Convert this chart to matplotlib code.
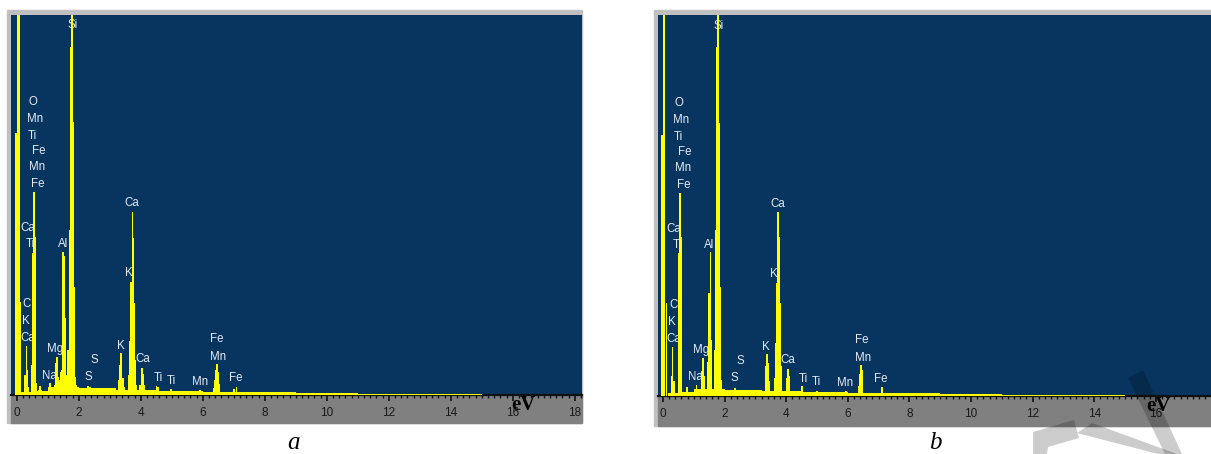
import matplotlib
matplotlib.use('Agg')
import matplotlib.pyplot as plt
from matplotlib.patches import Rectangle, Polygon
from matplotlib.ticker import MultipleLocator
import numpy as np

# spectrum a: channel energies (keV) and counts (arbitrary, full scale ~380)
energy_a = [-0.02, 0.02, 0.07, 0.12, 0.26, 0.31, 0.34, 0.38, 0.49, 0.52, 0.55, 0.60, 0.63,
            0.72, 0.75, 0.78, 1.04, 1.07, 1.10, 1.23, 1.26, 1.30, 1.33, 1.36, 1.39, 1.43,
            1.46, 1.49, 1.52, 1.55, 1.59, 1.62, 1.66, 1.71, 1.75, 1.79, 1.82, 1.85, 1.89, 1.92,
            2.30, 2.36, 3.29, 3.32, 3.35, 3.38, 3.42, 3.46,
            3.62, 3.65, 3.69, 3.73, 3.76, 3.79, 3.82, 3.85,
            3.98, 4.02, 4.05, 4.08, 4.11, 4.51, 4.55, 4.97, 5.91,
            6.35, 6.38, 6.42, 6.45, 6.48, 6.51, 6.54, 7.01, 7.09]
counts_a = [262, 420, 420, 93, 20, 49, 25, 8, 30, 142, 203, 158, 12,
            5, 9, 5, 6, 12, 6, 10, 32, 38, 18, 10, 15, 23,
            25, 143, 139, 77, 10, 20, 45, 165, 348, 380, 273, 108, 18, 10,
            9, 8, 15, 30, 42, 33, 17, 8,
            20, 54, 113, 183, 157, 92, 35, 10,
            10, 20, 27, 21, 10, 9, 8, 6, 5,
            7, 15, 25, 31, 23, 11, 6, 6, 8]

# spectrum b
energy_b = [-0.03, 0.02, 0.05, 0.11, 0.28, 0.31, 0.35, 0.50, 0.53, 0.56, 0.58,
            0.77, 1.09, 1.26, 1.29, 1.32, 1.47, 1.50, 1.54, 1.57,
            1.69, 1.72, 1.75, 1.79, 1.82, 1.85, 1.89, 2.34,
            3.33, 3.37, 3.40, 3.43, 3.64, 3.67, 3.71, 3.74, 3.78, 3.81, 3.84,
            4.02, 4.05, 4.08, 4.52, 4.99, 5.93,
            6.35, 6.38, 6.42, 6.45, 6.48, 7.10]
counts_b = [261, 420, 420, 93, 20, 49, 15, 33, 143, 203, 159,
            9, 11, 25, 38, 20, 34, 103, 144, 56,
            46, 166, 349, 381, 273, 109, 16, 8,
            30, 42, 33, 15, 18, 53, 113, 184, 159, 93, 30,
            18, 27, 20, 10, 5, 5,
            10, 22, 31, 26, 14, 9]

# continuum background
bg_edges = [0.15, 0.5, 1.0, 2.0, 3.2, 4.5, 6.0, 7.5, 9.0, 11.0, 13.0, 15.0]
bg_a = [3, 4, 8, 7, 5, 4, 3, 3, 2, 1.5, 1]
bg_b = [3, 4, 7, 6, 5, 4, 3, 3, 2, 1.5, 1]

# peak labels (name, keV, cts)
peak_names = ['Si', 'O', 'Mn', 'Ti', 'Fe', 'Mn', 'Fe', 'Ca', 'Ti', 'Al', 'C', 'K', 'Ca',
              'Mg', 'Na', 'S', 'S', 'Ca', 'K', 'K', 'Ca', 'Ti', 'Ti', 'Mn', 'Fe', 'Mn', 'Fe']
peak_kev = [1.80, 0.53, 0.60, 0.49, 0.72, 0.65, 0.66, 0.36, 0.45, 1.50, 0.33, 0.29, 0.34,
            1.25, 1.05, 2.51, 2.32, 3.72, 3.61, 3.35, 4.05, 4.55, 4.97, 5.92, 6.44, 6.49, 7.07]
peak_cts = [370, 293, 276, 259, 244, 228, 211, 167, 151, 151, 91, 74, 57,
            46, 19, 35, 18, 192, 122, 49, 36, 17, 14, 13, 56, 38, 17]

W, H = 1211, 454
fig = plt.figure(figsize=(W / 100, H / 100), dpi=100)

BLUE = '#08355f'
YELLOW = '#ffff00'


def px_rect(x0, y0, x1, y1):
    return [x0 / W, 1 - y1 / H, (x1 - x0) / W, (y1 - y0) / H]


def panel(frame, plot_box, base_y, bottom_y, xlim, ymax, energy, counts, bg, ticks, letter, ev_pos):
    fx0, fy0, fx1 = frame
    px0, py0, px1 = plot_box
    # light frame and grey ruler strip
    fig.patches.append(Rectangle((fx0 / W, 1 - bottom_y / H), (fx1 - fx0) / W, (bottom_y - fy0) / H,
                                 transform=fig.transFigure, color='#c0c0c0', zorder=-10))
    fig.patches.append(Rectangle((px0 / W, 1 - bottom_y / H), (px1 - px0) / W, (bottom_y - base_y) / H,
                                 transform=fig.transFigure, color='#808080', zorder=-9))
    ax = fig.add_axes(px_rect(px0, py0, px1, base_y))
    ax.set_facecolor(BLUE)
    ax.bar(energy, counts, width=0.056, color=YELLOW, linewidth=0, zorder=3)
    ax.stairs(bg, bg_edges, fill=True, color=YELLOW, linewidth=0, zorder=3)
    for name, e, c in zip(peak_names, peak_kev, peak_cts):
        ax.text(e, c, name, ha='center', va='center', fontsize=8.3, color='#e4eaf2',
                family='Liberation Sans', zorder=2)
    ax.set_xlim(*xlim)
    ax.set_ylim(0, ymax)
    ax.set_yticks([])
    for s in ['top', 'left', 'right']:
        ax.spines[s].set_visible(False)
    ax.spines['bottom'].set_linewidth(1.6)
    ax.spines['bottom'].set_color('#111111')
    ax.set_xticks(ticks)
    ax.set_xticklabels([str(t) for t in ticks], fontsize=8.5, color='#1a1a1a', family='Liberation Sans')
    ax.xaxis.set_minor_locator(MultipleLocator(0.2))
    ax.tick_params(axis='x', which='major', length=4, width=1.2, color='#111111', pad=4.5)
    ax.tick_params(axis='x', which='minor', length=2.5, width=1, color='#111111')
    fig.text(ev_pos[0] / W, 1 - ev_pos[1] / H, 'eV', ha='center', va='center', fontsize=15,
             fontweight='bold', family='Liberation Serif', color='black', zorder=5)
    fig.text(letter[1] / W, 1 - letter[2] / H, letter[0], ha='center', va='center', fontsize=18,
             style='italic', family='Liberation Serif', color='black')
    return ax


panel((7, 10, 582), (11, 15, 582), 395, 423, (-0.187, 18.23), 380,
      energy_a, counts_a, bg_a, list(range(0, 19, 2)), ('a', 293, 443), (523, 405))
panel((654, 10, 1211), (658, 15, 1211), 396, 426, (-0.162, 17.79), 381,
      energy_b, counts_b, bg_b, list(range(0, 17, 2)), ('b', 935, 443), (1158, 406))

# faint watermark strokes over panel b (pixel outlines)
watermark = [
    [(1128, 378), (1143, 370), (1182, 454), (1165, 454)],
    [(1077, 433), (1092, 423), (1177, 454), (1158, 454)],
    [(1033, 432), (1074, 420), (1079, 438), (1048, 447), (1047, 454), (1033, 454)],
]
for poly in watermark:
    fig.patches.append(Polygon([(x / W, 1 - y / H) for x, y in poly], closed=True,
                               transform=fig.transFigure, facecolor='black', alpha=0.2,
                               linewidth=0, zorder=10))

fig.savefig('out.png', dpi=100)
